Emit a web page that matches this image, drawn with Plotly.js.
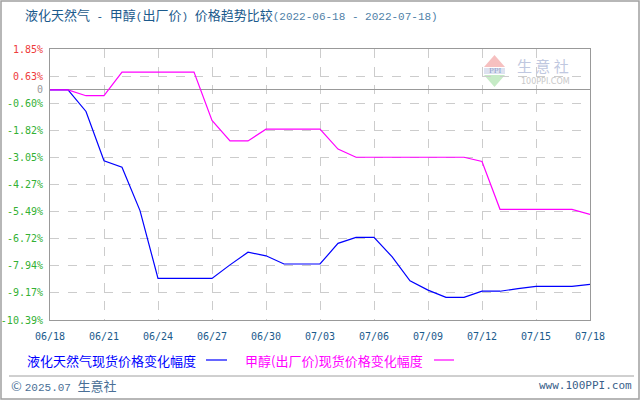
<!DOCTYPE html>
<html>
<head>
<meta charset="utf-8">
<script src="https://cdn.plot.ly/plotly-3.0.1.min.js"></script>
<style>html,body{margin:0;padding:0;background:#fff;}#chart{width:640px;height:400px;}</style>
</head>
<body>
<div id="chart"></div>
<script>
const dates = ['06/18','06/19','06/20','06/21','06/22','06/23','06/24','06/25','06/26','06/27','06/28','06/29','06/30',
  '07/01','07/02','07/03','07/04','07/05','07/06','07/07','07/08','07/09','07/10','07/11','07/12','07/13','07/14','07/15','07/16','07/17','07/18'];
const lngChange = [0,0,-0.97,-3.20,-3.49,-5.45,-8.51,-8.51,-8.51,-8.51,-7.90,-7.33,-7.49,
  -7.86,-7.86,-7.86,-6.93,-6.66,-6.66,-7.53,-8.62,-9.04,-9.37,-9.37,-9.09,-9.09,-8.97,-8.87,-8.87,-8.87,-8.78];
const methanolChange = [0,0,-0.26,-0.26,0.81,0.81,0.81,0.81,0.81,-1.38,-2.30,-2.30,-1.77,
  -1.77,-1.77,-1.77,-2.67,-3.04,-3.04,-3.04,-3.04,-3.04,-3.04,-3.04,-3.23,-5.39,-5.39,-5.39,-5.39,-5.39,-5.62];
const xTicks = ['06/18','06/21','06/24','06/27','06/30','07/03','07/06','07/09','07/12','07/15','07/18'];
const yTickVals = [1.85,0.63,0,-0.60,-1.82,-3.05,-4.27,-5.49,-6.72,-7.94,-9.17,-10.39];
const yTickText = ['1.85%','0.63%','0','-0.60%','-1.82%','-3.05%','-4.27%','-5.49%','-6.72%','-7.94%','-9.17%','-10.39%'];
const seriesNames = ['液化天然气现货价格变化幅度','甲醇(出厂价)现货价格变化幅度'];
const titleParts = ['液化天然气', ' - ', '甲醇', '(', '出厂价', ') ', '价格趋势比较'];
const titleDates = '(2022-06-18 - 2022-07-18)';

// pixel -> paper helpers (plot area: x 50..590, y 49..320)
const L = 50, R = 590, T = 49, B = 320;
const px = x => (x - L) / (R - L);
const py = y => (B - y) / (B - T);

const MONO = '"Liberation Mono", "DejaVu Sans Mono", monospace';
const CJK = '"Noto Sans CJK SC", sans-serif';
const asciiSpan = (s, color) => '<span style="font-family:' + MONO.replace(/"/g, "'") + ';font-size:11px;color:' + color + '">' + s.replace(/ /g, '&nbsp;') + '</span>';
const cjkSpan = (s, color) => '<span style="color:' + color + '">' + s + '</span>';
const mixed = (parts, color) => parts.map(p => /^[\x00-\x7f]+$/.test(p) ? asciiSpan(p, color) : cjkSpan(p, color)).join('');

const colorTick = t => {
  if (t === '0') return '<span style="color:#999999">0</span>';
  if (t.startsWith('-')) return '<span style="color:#33b033">' + t + '</span>';
  return '<span style="color:#ee3b3b">' + t + '</span>';
};

const traces = [
  {x: dates, y: lngChange, type: 'scatter', mode: 'lines', name: seriesNames[0],
   line: {color: '#0000ff', width: 1.2}, showlegend: false},
  {x: dates, y: methanolChange, type: 'scatter', mode: 'lines', name: seriesNames[1],
   line: {color: '#ff00ff', width: 1.2}, showlegend: false}
];

const layout = {
  width: 640, height: 400,
  margin: {l: L, r: 640 - R, t: T, b: 400 - B},
  paper_bgcolor: '#ffffff', plot_bgcolor: '#ffffff',
  showlegend: false,
  title: {
    text: mixed(titleParts, '#1b5a8c') + asciiSpan(titleDates, '#4f7fa8'),
    font: {family: CJK, size: 13},
    xref: 'container', yref: 'container', x: 25/640, xanchor: 'left', y: 1 - 15/400, yanchor: 'middle'
  },
  xaxis: {
    type: 'category', range: [0, dates.length - 1],
    tickmode: 'array', tickvals: xTicks, ticktext: xTicks,
    showgrid: true, gridcolor: '#cccccc', griddash: 'dash', gridwidth: 1,
    showline: true, mirror: true, linecolor: '#999999', linewidth: 1,
    ticks: '', ticklabelstandoff: 7,
    tickfont: {family: '"DejaVu Sans Mono", monospace', size: 10, color: '#1b5a8c'},
    zeroline: false, fixedrange: true
  },
  yaxis: {
    range: [-10.39, 1.85],
    tickmode: 'array', tickvals: yTickVals, ticktext: yTickText.map(colorTick),
    showgrid: true, gridcolor: '#cccccc', griddash: 'dash', gridwidth: 1,
    zeroline: true, zerolinecolor: '#999999', zerolinewidth: 1,
    showline: true, mirror: true, linecolor: '#999999', linewidth: 1,
    ticks: '', ticklabelstandoff: 4,
    tickfont: {family: '"DejaVu Sans Mono", monospace', size: 10},
    fixedrange: true
  },
  shapes: [
    // outer border
    {type: 'rect', xref: 'paper', yref: 'paper', x0: px(1), x1: px(639), y0: py(399), y1: py(1),
     line: {color: '#a0a0a0', width: 1.5}, fillcolor: 'rgba(0,0,0,0)'},
    // footer separator
    {type: 'line', xref: 'paper', yref: 'paper', x0: px(9), x1: px(634), y0: py(376), y1: py(376),
     line: {color: '#a0a0a0', width: 1}},
    // legend line samples
    {type: 'line', xref: 'paper', yref: 'paper', x0: px(206), x1: px(227), y0: py(360), y1: py(360),
     line: {color: '#0000ff', width: 1.2}},
    {type: 'line', xref: 'paper', yref: 'paper', x0: px(434), x1: px(454), y0: py(360), y1: py(360),
     line: {color: '#ff00ff', width: 1.2}},
    // watermark logo
    {type: 'path', xref: 'paper', yref: 'paper', layer: 'below',
     path: 'M ' + px(484) + ' ' + py(67) + ' L ' + px(494.5) + ' ' + py(55) + ' L ' + px(505) + ' ' + py(67) + ' Z',
     fillcolor: '#f6c0c0', line: {width: 0}},
    {type: 'rect', xref: 'paper', yref: 'paper', layer: 'below',
     x0: px(484), x1: px(505), y0: py(74), y1: py(68), fillcolor: '#dde2f0', line: {width: 0}},
    {type: 'path', xref: 'paper', yref: 'paper', layer: 'below',
     path: 'M ' + px(484) + ' ' + py(75) + ' L ' + px(505) + ' ' + py(75) + ' L ' + px(494.5) + ' ' + py(87) + ' Z',
     fillcolor: '#c6ebc6', line: {width: 0}}
  ],
  annotations: [
    {xref: 'paper', yref: 'paper', x: px(25), y: py(360), xanchor: 'left', yanchor: 'middle', showarrow: false,
     text: seriesNames[0], font: {family: CJK, size: 13, color: '#0000ff'}},
    {xref: 'paper', yref: 'paper', x: px(243), y: py(360), xanchor: 'left', yanchor: 'middle', showarrow: false,
     text: seriesNames[1], font: {family: CJK, size: 13, color: '#ff00ff'}},
    {xref: 'paper', yref: 'paper', x: px(9), y: py(385), xanchor: 'left', yanchor: 'middle', showarrow: false,
     text: '©&nbsp;' + asciiSpan('2025.07 ', '#4a6f96') + '生意社', font: {family: CJK, size: 13, color: '#4a6f96'}},
    {xref: 'paper', yref: 'paper', x: px(634), y: py(385), xanchor: 'right', yanchor: 'middle', showarrow: false,
     text: 'www.100PPI.com', font: {family: '"DejaVu Sans Mono", monospace', size: 11, color: '#3a5f8a'}},
    {xref: 'paper', yref: 'paper', x: px(494.5), y: py(71), xanchor: 'center', yanchor: 'middle', showarrow: false,
     text: 'PPI', font: {family: 'DejaVu Serif, serif', size: 7, color: '#8a9ac8'}},
    {xref: 'paper', yref: 'paper', x: px(543), y: py(65), xanchor: 'center', yanchor: 'middle', showarrow: false,
     text: '生 意 社', font: {family: CJK, size: 15, color: '#c0c8e0'}},
    {xref: 'paper', yref: 'paper', x: px(545), y: py(81.5), xanchor: 'center', yanchor: 'middle', showarrow: false,
     text: '100PPI.COM', font: {family: 'DejaVu Sans, sans-serif', size: 8, color: '#c8c8c8'}}
  ]
};

Plotly.newPlot('chart', traces, layout, {displayModeBar: false, staticPlot: true});
</script>
</body>
</html>
